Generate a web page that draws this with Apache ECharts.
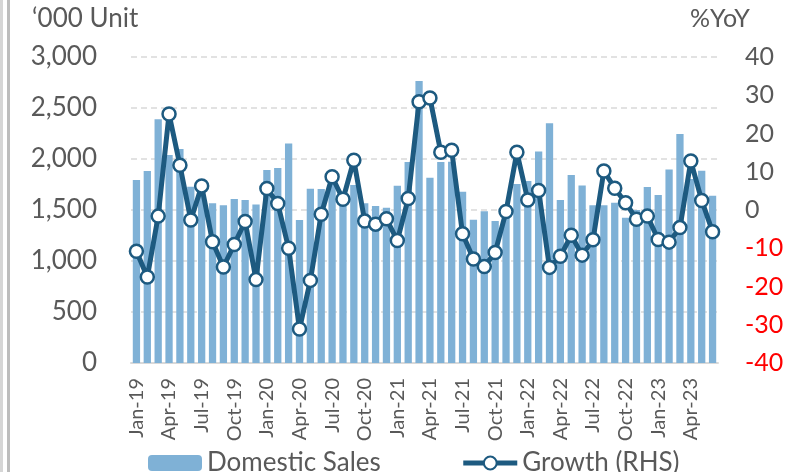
<!DOCTYPE html>
<html>
<head>
<meta charset="utf-8">
<script src="https://cdn.jsdelivr.net/npm/echarts@6/dist/echarts.min.js"></script>
<style>
  html, body { margin: 0; padding: 0; background: #fff; }
  #chart { width: 808px; height: 472px; }
</style>
</head>
<body>
<div id="chart"></div>
<script>
// 月份标签 Jan-19 ... Jun-23
const months = [
  'Jan-19','Feb-19','Mar-19','Apr-19','May-19','Jun-19','Jul-19','Aug-19','Sep-19','Oct-19','Nov-19','Dec-19',
  'Jan-20','Feb-20','Mar-20','Apr-20','May-20','Jun-20','Jul-20','Aug-20','Sep-20','Oct-20','Nov-20','Dec-20',
  'Jan-21','Feb-21','Mar-21','Apr-21','May-21','Jun-21','Jul-21','Aug-21','Sep-21','Oct-21','Nov-21','Dec-21',
  'Jan-22','Feb-22','Mar-22','Apr-22','May-22','Jun-22','Jul-22','Aug-22','Sep-22','Oct-22','Nov-22','Dec-22',
  'Jan-23','Feb-23','Mar-23','Apr-23','May-23','Jun-23'
]

// 国内销量 ('000 Unit)
const domesticSales = [
  1793, 1882, 2390, 2038, 2097, 1728, 1647, 1565, 1546, 1608, 1598, 1555,
  1891, 1911, 2152, 1402, 1709, 1706, 1790, 1610, 1745, 1565, 1539, 1523,
  1738, 1970, 2765, 1816, 1970, 1972, 1679, 1405, 1487, 1392, 1533, 1754,
  1784, 2074, 2351, 1598, 1842, 1741, 1546, 1546, 1572, 1425, 1500, 1725,
  1647, 1898, 2244, 1803, 1885, 1640
]

// 同比增长 %YoY
const growth = [
  -10.8, -17.5, -1.6, 25.1, 11.7, -2.6, 6.3, -8.3, -14.9, -9.0, -3.0, -18.2,
  5.6, 1.7, -10.0, -31.1, -18.4, -1.1, 8.7, 2.8, 13.0, -2.9, -3.7, -2.3,
  -8.0, 3.0, 28.3, 29.3, 15.1, 15.6, -6.2, -12.8, -14.8, -11.1, -0.4, 15.1,
  2.6, 5.1, -15.0, -12.1, -6.6, -11.8, -7.8, 10.2, 5.7, 1.9, -2.4, -1.6,
  -7.7, -8.4, -4.6, 12.8, 2.5, -5.7
]

const FONT = 'Lato'
const GREY = '#595959'
const LINE_BLUE = '#1d5a80'

const chart = echarts.init(document.getElementById('chart'))

const option = {
  animation: false,
  textStyle: { fontFamily: FONT, color: GREY },
  grid: { left: 131, right: 90, top: 57, bottom: 109, containLabel: false },
  graphic: [
    { type: 'rect', shape: { x: 0, y: 0, width: 3, height: 472 }, style: { fill: '#d6d6d6' } },
    { type: 'rect', shape: { x: 7, y: 0, width: 3, height: 472 }, style: { fill: '#bdbdbd' } },
    { type: 'text', left: 32, top: 6, style: { text: '\u2018000 Unit', font: '26px Lato', fill: GREY } },
    { type: 'text', left: 690, top: 6, style: { text: '%YoY', font: '25px Lato', fill: GREY } }
  ],
  legend: {
    top: 445,
    left: 143,
    itemGap: 80,
    itemWidth: 54,
    itemHeight: 16,
    textStyle: { fontFamily: FONT, fontSize: 26, color: GREY },
    data: [
      { name: 'Domestic Sales' },
      { name: 'Growth (RHS)', lineStyle: { width: 5, color: LINE_BLUE } }
    ]
  },
  xAxis: {
    type: 'category',
    data: months,
    axisTick: { show: false },
    axisLine: { lineStyle: { color: '#d9d9d9', width: 2 } },
    axisLabel: {
      interval: 2,
      rotate: 90,
      margin: 15,
      fontSize: 20,
      color: GREY,
      fontFamily: FONT
    }
  },
  yAxis: [
    {
      type: 'value',
      min: 0,
      max: 3000,
      interval: 500,
      axisLine: { show: false },
      axisTick: { show: false },
      splitLine: { lineStyle: { color: '#d9d9d9', type: [6, 4], width: 1.5 } },
      axisLabel: {
        margin: 34,
        fontSize: 26,
        color: GREY,
        fontFamily: FONT,
        formatter: v => v.toLocaleString('en-US')
      }
    },
    {
      type: 'value',
      min: -40,
      max: 40,
      interval: 10,
      axisLine: { show: false },
      axisTick: { show: false },
      splitLine: { show: false },
      axisLabel: {
        margin: 27,
        fontSize: 25,
        fontFamily: FONT,
        color: v => (v < 0 ? '#ff0000' : GREY)
      }
    }
  ],
  series: [
    {
      name: 'Domestic Sales',
      type: 'bar',
      data: domesticSales,
      barCategoryGap: '33%',
      itemStyle: { color: '#7fb1d6' }
    },
    {
      name: 'Growth (RHS)',
      type: 'line',
      yAxisIndex: 1,
      data: growth,
      symbol: 'circle',
      symbolSize: 13,
      showAllSymbol: true,
      lineStyle: { color: LINE_BLUE, width: 5 },
      itemStyle: { color: '#ffffff', borderColor: LINE_BLUE, borderWidth: 2.5 }
    }
  ]
}

chart.setOption(option)
</script>
</body>
</html>
